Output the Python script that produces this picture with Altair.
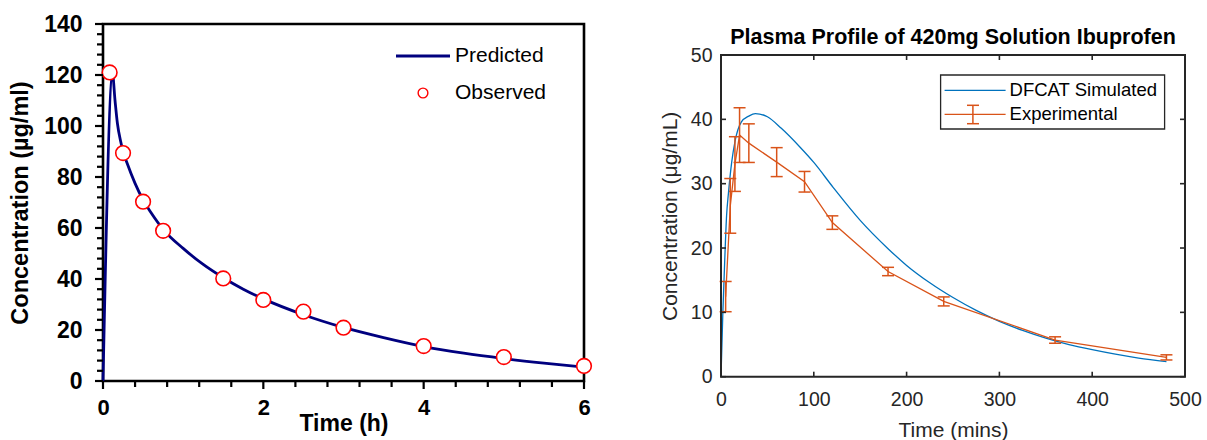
import altair as alt
import pandas as pd

FONT = "Liberation Sans"

# ---------------- left panel data ----------------
pred_time_h = [0, 0.12, 0.15, 0.18, 0.22, 0.25, 0.3, 0.4, 0.5, 0.6, 0.75, 1.0, 1.25, 1.5,
               1.75, 2.0, 2.5, 3.0, 3.5, 4.0, 4.5, 5.0, 5.5, 6.0]
pred_conc = [0, 120, 110, 101, 94, 90, 85.5, 77.5, 71, 66, 59.5, 52, 45.7, 40.5,
             36, 32.2, 26, 21, 17, 13.5, 10.9, 8.8, 7.0, 5.4]
obs_time_h = [0.083, 0.25, 0.5, 0.75, 1.5, 2, 2.5, 3, 4, 5, 6]
obs_conc = [121, 89.4, 70.3, 58.9, 40.2, 31.8, 27.2, 20.9, 13.7, 9.4, 5.9]
left_x_major = [0, 2, 4, 6]
left_x_minor = [0.4, 0.8, 1.2, 1.6, 2.4, 2.8, 3.2, 3.6, 4.4, 4.8, 5.2, 5.6]
left_y_major = [0, 20, 40, 60, 80, 100, 120, 140]
left_y_minor = [v for v in range(4, 140, 4) if v % 20]
left_legend = ["Predicted", "Observed"]

# ---------------- right panel data ----------------
sim_time = [0, 2, 4, 6, 8, 11.5, 15, 22, 30, 37, 50, 65, 85, 100, 121, 150, 180, 200,
            225, 250, 275, 300, 325, 350, 375, 400, 425, 450, 480]
sim_conc = [0, 10, 18, 25, 28.5, 33.3, 36.5, 39.6, 40.5, 40.9, 40.4, 38.6, 35.7, 33.3,
            29.4, 24.3, 19.9, 17.3, 14.6, 12.3, 10.3, 8.6, 7.2, 6.0, 5.0, 4.2, 3.5, 2.9, 2.35]
exp_time = [5, 10, 15, 20, 30, 60, 90, 120, 180, 240, 360, 480]
exp_mean = [12.45, 26.55, 33.05, 37.55, 36.3, 33.35, 30.3, 23.95, 16.35, 11.7, 5.7, 3.0]
exp_err = [2.35, 4.25, 4.25, 4.25, 3.0, 2.25, 1.6, 1.05, 0.65, 0.7, 0.5, 0.4]
right_x_ticks = [0, 100, 200, 300, 400, 500]
right_y_ticks = [0, 10, 20, 30, 40, 50]
right_legend = ["DFCAT Simulated", "Experimental"]
right_title = "Plasma Profile of 420mg Solution Ibuprofen"

LW, LH = 481, 357
RW = 464
R_TOP = 31          # right frame starts lower than the left one
RH = 352.7          # total right group height (frame from R_TOP to RH)

one = pd.DataFrame({"a": [0]})

# ================= LEFT =================
lx = alt.Scale(domain=[0, 6], nice=False, zero=False)
ly = alt.Scale(domain=[0, 140], nice=False)

lxaxis = alt.Axis(values=left_x_major, ticks=False, tickSize=0, domain=False, grid=False,
                  labelFont=FONT, labelFontSize=22, labelFontWeight="bold", labelColor="black",
                  labelBaseline="alphabetic", labelPadding=33, labelFlush=False, labelOverlap=False,
                  title="Time (h)", titleFont=FONT, titleFontSize=23, titleFontWeight="bold",
                  titleColor="black", titleBaseline="alphabetic", titleY=49.5)
lyaxis = alt.Axis(values=left_y_major, ticks=False, tickSize=0, domain=False, grid=False,
                  labelFont=FONT, labelFontSize=23, labelFontWeight="bold", labelColor="black",
                  labelPadding=21, labelFlush=False, labelOverlap=False,
                  title="Concentration (µg/ml)", titleFont=FONT, titleFontSize=23.5,
                  titleFontWeight="bold", titleColor="black", titleBaseline="alphabetic",
                  titleX=-75.5, titleY=LH / 2)


def LX(f):
    return alt.X(f, scale=lx, axis=lxaxis)


def LY(f):
    return alt.Y(f, scale=ly, axis=lyaxis)


pred_df = pd.DataFrame({"t": pred_time_h, "c": pred_conc})
obs_df = pd.DataFrame({"t": obs_time_h, "c": obs_conc})

pred_line = alt.Chart(pred_df).mark_line(color="#00007F", strokeWidth=2.8, interpolate="monotone").encode(
    x=LX("t:Q"), y=LY("c:Q"), order="t:Q")
obs_pts = alt.Chart(obs_df).mark_point(shape="circle", filled=True, fill="white", stroke="#FF0000",
                                       strokeWidth=1.6, size=215, opacity=1).encode(
    x=LX("t:Q"), y=LY("c:Q"))
lxt_major = alt.Chart(pd.DataFrame({"v": left_x_major})).mark_rule(color="black", strokeWidth=2.2).encode(
    x=LX("v:Q"), y=alt.value(LH), y2=alt.value(LH + 8))
lxt_minor = alt.Chart(pd.DataFrame({"v": left_x_minor})).mark_rule(color="black", strokeWidth=2.2).encode(
    x=LX("v:Q"), y=alt.value(LH), y2=alt.value(LH + 6))
lyt_major = alt.Chart(pd.DataFrame({"v": left_y_major})).mark_rule(color="black", strokeWidth=2.2).encode(
    y=LY("v:Q"), x=alt.value(0), x2=alt.value(-8))
lyt_minor = alt.Chart(pd.DataFrame({"v": left_y_minor})).mark_rule(color="black", strokeWidth=2.2).encode(
    y=LY("v:Q"), x=alt.value(0), x2=alt.value(-6))

lleg_line = alt.Chart(one).mark_rule(color="#00007F", strokeWidth=2.8).encode(
    x=alt.value(293), x2=alt.value(347), y=alt.value(32))
lleg_pt = alt.Chart(one).mark_point(shape="circle", filled=True, fill="white", stroke="#FF0000",
                                    strokeWidth=1.4, size=95, opacity=1).encode(
    x=alt.value(320), y=alt.value(69))
lleg_t1 = alt.Chart(one).mark_text(text=left_legend[0], font=FONT, fontSize=21, color="black",
                                   align="left", baseline="middle").encode(x=alt.value(352), y=alt.value(32))
lleg_t2 = alt.Chart(one).mark_text(text=left_legend[1], font=FONT, fontSize=21, color="black",
                                   align="left", baseline="middle").encode(x=alt.value(352), y=alt.value(69))

left = alt.layer(pred_line, obs_pts, lxt_major, lxt_minor, lyt_major, lyt_minor,
                 lleg_line, lleg_pt, lleg_t1, lleg_t2).properties(
    width=LW, height=LH, view=alt.ViewBackground(stroke="black", strokeWidth=2.6))

# ================= RIGHT =================
GRAY = "#262626"
BLUE = "#0072BD"
ORANGE = "#D95319"
rx = alt.Scale(domain=[0, 500], nice=False, zero=False)
ry = alt.Scale(domain=[0, 50], nice=False, range=[RH, R_TOP])

rxaxis = alt.Axis(values=right_x_ticks, ticks=False, tickSize=0, domain=False, grid=False,
                  labelFont=FONT, labelFontSize=19.5, labelColor=GRAY,
                  labelBaseline="alphabetic", labelPadding=29, labelFlush=False, labelOverlap=False,
                  title="Time (mins)", titleFont=FONT, titleFontSize=21, titleFontWeight="normal",
                  titleColor=GRAY, titleBaseline="alphabetic", titleY=60)
ryaxis = alt.Axis(values=right_y_ticks, ticks=False, tickSize=0, domain=False, grid=False,
                  labelFont=FONT, labelFontSize=19.5, labelColor=GRAY,
                  labelPadding=9, labelFlush=False, labelOverlap=False,
                  title="Concentration (μg/mL)", titleFont=FONT, titleFontSize=21,
                  titleFontWeight="normal", titleColor=GRAY, titleBaseline="alphabetic",
                  titleX=-44.5, titleY=(RH + R_TOP) / 2)


def RX(f):
    return alt.X(f, scale=rx, axis=rxaxis)


def RY(f):
    return alt.Y(f, scale=ry, axis=ryaxis)


sim_df = pd.DataFrame({"t": sim_time, "c": sim_conc})
exp_df = pd.DataFrame({"t": exp_time, "m": exp_mean, "e": exp_err})

sim_line = alt.Chart(sim_df).mark_line(color=BLUE, strokeWidth=1.3, interpolate="monotone").encode(
    x=RX("t:Q"), y=RY("c:Q"), order="t:Q")
exp_base = alt.Chart(exp_df).transform_calculate(lo="datum.m - datum.e", hi="datum.m + datum.e")
exp_line = exp_base.mark_line(color=ORANGE, strokeWidth=1.3).encode(
    x=RX("t:Q"), y=RY("m:Q"), order="t:Q")
exp_bar = exp_base.mark_rule(color=ORANGE, strokeWidth=1.5).encode(
    x=RX("t:Q"), y=RY("lo:Q"), y2="hi:Q")
exp_cap_lo = exp_base.mark_tick(color=ORANGE, orient="horizontal", size=12, thickness=1.5, opacity=1).encode(
    x=RX("t:Q"), y=RY("lo:Q"))
exp_cap_hi = exp_base.mark_tick(color=ORANGE, orient="horizontal", size=12, thickness=1.5, opacity=1).encode(
    x=RX("t:Q"), y=RY("hi:Q"))

rxt_df = pd.DataFrame({"v": right_x_ticks})
ryt_df = pd.DataFrame({"v": right_y_ticks})
rt_bottom = alt.Chart(rxt_df).mark_rule(color=GRAY, strokeWidth=1.6).encode(
    x=RX("v:Q"), y=alt.value(RH), y2=alt.value(RH - 5))
rt_top = alt.Chart(rxt_df).mark_rule(color=GRAY, strokeWidth=1.6).encode(
    x=RX("v:Q"), y=alt.value(R_TOP), y2=alt.value(R_TOP + 5))
rt_left = alt.Chart(ryt_df).mark_rule(color=GRAY, strokeWidth=1.6).encode(
    y=RY("v:Q"), x=alt.value(0), x2=alt.value(5))
rt_right = alt.Chart(ryt_df).mark_rule(color=GRAY, strokeWidth=1.6).encode(
    y=RY("v:Q"), x=alt.value(RW), x2=alt.value(RW - 5))
r_frame = alt.Chart(one).mark_rect(filled=False, stroke=GRAY, strokeWidth=2).encode(
    x=alt.value(0), x2=alt.value(RW), y=alt.value(R_TOP), y2=alt.value(RH))

LT = R_TOP
rleg_box = alt.Chart(one).mark_rect(fill="white", stroke=GRAY, strokeWidth=1.3).encode(
    x=alt.value(219.6), x2=alt.value(443.6), y=alt.value(LT + 20), y2=alt.value(LT + 74))
rleg_l1 = alt.Chart(one).mark_rule(color=BLUE, strokeWidth=1.3).encode(
    x=alt.value(223.6), x2=alt.value(284.6), y=alt.value(LT + 35.3))
rleg_l2 = alt.Chart(one).mark_rule(color=ORANGE, strokeWidth=1.3).encode(
    x=alt.value(223.6), x2=alt.value(284.6), y=alt.value(LT + 59.3))
rleg_eb = alt.Chart(one).mark_rule(color=ORANGE, strokeWidth=1.5).encode(
    x=alt.value(251.9), y=alt.value(LT + 50.3), y2=alt.value(LT + 68.7))
rleg_c1 = alt.Chart(one).mark_rule(color=ORANGE, strokeWidth=1.5).encode(
    x=alt.value(246), x2=alt.value(258), y=alt.value(LT + 50.3))
rleg_c2 = alt.Chart(one).mark_rule(color=ORANGE, strokeWidth=1.5).encode(
    x=alt.value(246), x2=alt.value(258), y=alt.value(LT + 68.7))
rleg_t1 = alt.Chart(one).mark_text(text=right_legend[0], font=FONT, fontSize=18.5, color="black",
                                   align="left", baseline="middle").encode(
    x=alt.value(288.6), y=alt.value(LT + 35.3))
rleg_t2 = alt.Chart(one).mark_text(text=right_legend[1], font=FONT, fontSize=18.5, color="black",
                                   align="left", baseline="middle").encode(
    x=alt.value(288.6), y=alt.value(LT + 59.3))
rtitle = alt.Chart(one).mark_text(text=right_title, font=FONT, fontSize=21.5, fontWeight="bold",
                                  color="black", align="center", baseline="alphabetic").encode(
    x=alt.value(RW / 2), y=alt.value(R_TOP - 11.5))

right = alt.layer(sim_line, exp_line, exp_bar, exp_cap_lo, exp_cap_hi,
                  rt_bottom, rt_top, rt_left, rt_right, r_frame,
                  rleg_box, rleg_l1, rleg_l2, rleg_eb, rleg_c1, rleg_c2, rleg_t1, rleg_t2,
                  rtitle).properties(
    width=RW, height=RH, view=alt.ViewBackground(stroke="transparent"))

chart = alt.hconcat(left, right, spacing=63).properties(
    padding={"left": 7, "top": 11, "right": 0, "bottom": 0},
    background="white",
)

chart.save("out.html", embed_options={"renderer": "svg", "actions": False})
